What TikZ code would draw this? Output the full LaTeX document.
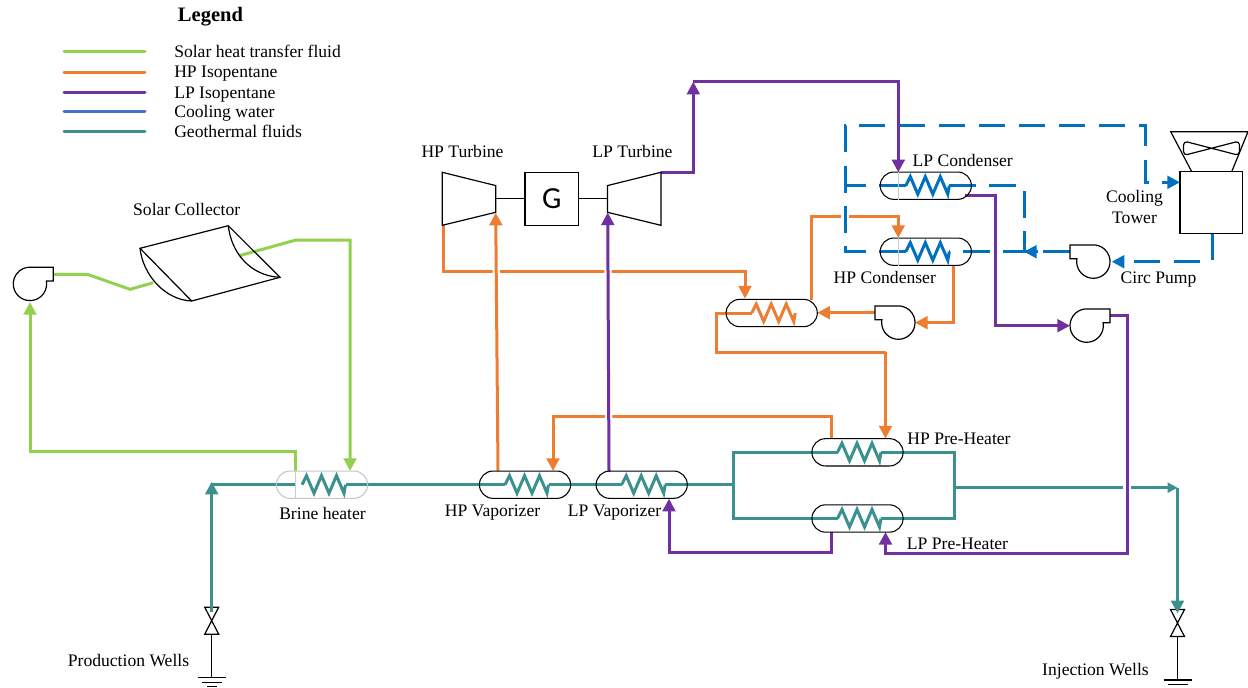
\documentclass[tikz,border=0pt]{standalone}
\usepackage{fontspec}
\setmainfont{Liberation Serif}
\newfontfamily\genfont{Carlito}
\usepackage{xcolor}
\usepackage{tikz}
\usetikzlibrary{arrows.meta, shapes.misc, positioning}
\definecolor{solarGreen}{RGB}{146,208,80}
\definecolor{hpOrange}{RGB}{237,125,49}
\definecolor{lpPurple}{RGB}{112,48,160}
\definecolor{coolBlue}{RGB}{0,112,192}
\definecolor{legendBlue}{RGB}{68,114,196}
\definecolor{geoTeal}{RGB}{58,145,142}
\tikzset{
  pipe/.style={line width=2.25pt},
  flow/.style={pipe,-{Triangle[length=9.5pt,width=9.5pt]}},
  smallflow/.style={pipe,-{Triangle[length=7.5pt,width=7.5pt]}},
  cool/.style={line width=2.25pt,coolBlue,dash pattern=on 20pt off 10pt},
  gapline/.style={white,line width=5.5pt},
  unit/.style={line width=0.9pt},
  shell/.style={gray!40,line width=0.5pt},
  hx/.style={rounded rectangle,draw,line width=0.8pt,minimum width=68.4pt,minimum height=20.5pt,inner sep=0pt},
  lblbase/.style={inner sep=0pt,font=\fontsize{13.2}{15.5}\selectfont},
  lbl/.style={lblbase,text height=10.5pt,text depth=2.5pt},
  pics/coil/.style={code={
    \draw[pipe,#1] (-20,0) -- (-15.5,-9) -- (-8,8.5) -- (-0.5,-9) -- (7,8.5) -- (14.5,-9) -- (22,8.5) -- (23.5,0);
    \coordinate (-w) at (-20,0);
    \coordinate (-e) at (23.5,0);
  }},
  pics/pump/.style={code={
    \draw[unit] (16.4,-3) arc[start angle=-10,end angle=270,radius=16.7] -- (23.3,-16.7) -- (23.3,-3) -- cycle;
    \coordinate (-out) at (23.3,-10);
    \coordinate (-in) at (-16.7,0);
    \coordinate (-bot) at (0,16.7);
  }},
  pics/turbine/.style={code={
    \draw[unit] (-26.7,-26.5) -- (26.7,-13.2) -- (26.7,13.5) -- (-26.7,26.5) -- cycle;
    \coordinate (-shaft) at (26.7,0);
    \coordinate (-inlet) at (26.7,13.5);
    \coordinate (-outlet) at (-26.7,26.5);
    \coordinate (-exhaust) at (-26.7,-26.5);
  }},
  pics/well/.style={code={
    \draw[unit] (-7,-13.5) -- (7,-13.5) -- (-7,13.5) -- (7,13.5) -- cycle;
    \draw[unit] (0,13.5) -- (0,57);
    \draw[unit] (-14,57) -- (14,57);
    \draw[unit] (-10,61.5) -- (10,61.5);
    \draw[unit] (-5,66) -- (5,66);
  }}
}
\begin{document}
\begin{tikzpicture}[x=0.75pt,y=-0.75pt]
  \useasboundingbox (0,0) rectangle (1248,688);
  % Legend
  \node[inner sep=0pt,font=\fontsize{15.4}{18}\selectfont\bfseries] (legendtitle) at (210.5,17) {Legend};
  \foreach \i/\col/\y/\name in {1/solarGreen/52/Solar heat transfer fluid,2/hpOrange/72.5/HP Isopentane,3/lpPurple/93/LP Isopentane,4/legendBlue/112/Cooling water,5/geoTeal/132/Geothermal fluids}{
    \coordinate (lega\i) at (64,\y);
    \coordinate (legb\i) at (145,\y);
    \node[lbl,anchor=west] (legt\i) at (174,\y) {\name};
    \draw[pipe,\col,line cap=round] (lega\i) -- (legb\i);
  }
  % Heat exchangers
  \pic (brinecoil) at (322,484.7) {coil=geoTeal};
  \pic (hpvapcoil) at (525,484.7) {coil=geoTeal};
  \pic (lpvapcoil) at (641.7,484.7) {coil=geoTeal};
  \pic (hpheatcoil) at (857.5,452.3) {coil=geoTeal};
  \pic (lpheatcoil) at (857.5,518.5) {coil=geoTeal};
  \pic (recupcoil) at (771.7,313) {coil=hpOrange};
  \pic (lpcondcoil) at (925.8,185.7) {coil=coolBlue};
  \pic (hpcondcoil) at (925.8,251.7) {coil=coolBlue};
  % Wells
  \pic (prodwell) at (211.7,620.7) {well};
  \pic (injwell) at (1177.5,623) {well};
  % Solar loop
  \coordinate (solarpumpout) at (53.3,274.3);
  \coordinate (solarpumpin) at (30,302);
  \coordinate (sola) at (87.3,274.3);
  \coordinate (solb) at (130,289.3);
  \coordinate (colin) at (153.3,282.7);
  \coordinate (colout) at (239.3,255.7);
  \coordinate (solc) at (296,240);
  \coordinate (sold) at (350,240);
  \coordinate (brinein) at (350,471);
  \coordinate (brineout) at (295.3,471);
  \coordinate (sole) at (295.3,451.7);
  \coordinate (solf) at (30,451.7);
  \draw[pipe,solarGreen] (solarpumpout) -- (sola) -- (solb) -- (colin);
  \draw[flow,solarGreen] (colout) -- (solc) -- (sold) -- (brinein);
  \draw[flow,solarGreen] (brineout) -- (sole) -- (solf) -- (solarpumpin);
  % Geothermal line
  \coordinate (prodout) at (211.7,612);
  \coordinate (prodtip) at (211.7,481.7);
  \coordinate (prodturn) at (211.7,484.7);
  \coordinate (brinestop) at (295,484.7);
  \coordinate (split) at (733,484.7);
  \coordinate (splittop) at (733,452.3);
  \coordinate (splitbot) at (733,518.5);
  \coordinate (jointop) at (954,452.3);
  \coordinate (joinbot) at (954,518.5);
  \coordinate (joinout) at (954,487.7);
  \coordinate (injturn) at (1177.5,487.7);
  \coordinate (injtip) at (1177.5,613.3);
  \draw[flow,geoTeal] (prodout) -- (prodtip);
  \draw[pipe,geoTeal] (prodturn) -- (brinestop);
  \draw[pipe,geoTeal] (brinecoil-e) -- (hpvapcoil-w);
  \draw[pipe,geoTeal] (hpvapcoil-e) -- (lpvapcoil-w);
  \draw[pipe,geoTeal] (lpvapcoil-e) -- (split);
  \draw[pipe,geoTeal] (hpheatcoil-w) -- (splittop) -- (splitbot) -- (lpheatcoil-w);
  \draw[pipe,geoTeal] (hpheatcoil-e) -- (jointop) -- (joinbot) -- (lpheatcoil-e);
  \draw[smallflow,geoTeal] (joinout) -- (injturn);
  \draw[flow,geoTeal] (injturn) -- (injtip);
  % HP isopentane
  \coordinate (hpexh) at (443.5,225);
  \coordinate (hpa) at (443.5,271.7);
  \coordinate (hpb) at (745,271.7);
  \coordinate (recupin) at (745,298.5);
  \coordinate (recupout) at (811.7,300);
  \coordinate (hpc) at (811.7,216.7);
  \coordinate (hpd) at (898.3,216.7);
  \coordinate (hpcondin) at (898.3,238);
  \coordinate (hpcondout) at (953.3,265);
  \coordinate (hpe) at (953.3,322.7);
  \coordinate (hppumpin) at (915,322.7);
  \coordinate (hppumpout) at (875,312.7);
  \coordinate (recupe) at (817.3,312.7);
  \coordinate (hpf) at (716,313);
  \coordinate (hpg) at (716,352.3);
  \coordinate (hph) at (885.5,352.3);
  \coordinate (hpheatin) at (885.5,438.5);
  \coordinate (hpheatout) at (831,438.5);
  \coordinate (hpi) at (831,416);
  \coordinate (hpj) at (553,416);
  \coordinate (hpvapin) at (553,471);
  \coordinate (hpvapout) at (498,471);
  \coordinate (hptin) at (495.7,212.7);
  \draw[flow,hpOrange] (hpexh) -- (hpa) -- (hpb) -- (recupin);
  \draw[flow,hpOrange] (recupout) -- (hpc) -- (hpd) -- (hpcondin);
  \draw[flow,hpOrange] (hpcondout) -- (hpe) -- (hppumpin);
  \draw[flow,hpOrange] (hppumpout) -- (recupe);
  \draw[pipe,hpOrange] (recupcoil-w) -- (hpf) -- (hpg) -- (hph);
  \draw[flow,hpOrange] (hph) -- (hpheatin);
  \draw[flow,hpOrange] (hpheatout) -- (hpi) -- (hpj) -- (hpvapin);
  \draw[gapline] (hpvapout) -- (hptin);
  \draw[flow,hpOrange] (hpvapout) -- (hptin);
  % Cooling water
  \coordinate (cla) at (845,251.7);
  \coordinate (clb) at (845,126);
  \coordinate (clc) at (1145,126);
  \coordinate (cld) at (1145,182.3);
  \coordinate (towerin) at (1180,182.3);
  \coordinate (cle) at (845,185.7);
  \coordinate (clf) at (1024,185.7);
  \coordinate (clg) at (1024,251.7);
  \coordinate (clh) at (1037.5,251.7);
  \coordinate (circout) at (1070,251.7);
  \coordinate (towerout) at (1212,233.3);
  \coordinate (cli) at (1212,261.7);
  \coordinate (circin) at (1111.7,261.7);
  \coordinate (cljumpa) at (845,207);
  \coordinate (cljumpb) at (845,227);
  \draw[gapline] (cljumpa) -- (cljumpb);
  \draw[cool,-{Triangle[length=9.5pt,width=9.5pt]}] (hpcondcoil-w) -- (cla) -- (clb) -- (clc) -- (cld) -- (towerin);
  \draw[cool] (lpcondcoil-w) -- (cle);
  \draw[cool] (lpcondcoil-e) -- (clf) -- (clg);
  \draw[cool] (circout) -- (hpcondcoil-e);
  \draw[flow,coolBlue] (clh) -- (clg);
  \draw[cool,-{Triangle[length=9.5pt,width=9.5pt]}] (towerout) -- (cli) -- (circin);
  % LP isopentane
  \coordinate (lptout) at (660.7,172.3);
  \coordinate (lpa) at (693.3,172.3);
  \coordinate (lpb) at (693.3,81.7);
  \coordinate (lpc) at (898.3,81.7);
  \coordinate (lpcondin) at (898.3,172.3);
  \coordinate (lpcondout) at (965,195);
  \coordinate (lpd) at (995,195);
  \coordinate (lpe) at (995,325.7);
  \coordinate (lppumpin) at (1070,325.7);
  \coordinate (lppumpout) at (1110,315);
  \coordinate (lpf) at (1127,315);
  \coordinate (lpg) at (1127,553);
  \coordinate (lph) at (885.5,553);
  \coordinate (lpheatin) at (885.5,532);
  \coordinate (lpheatout) at (831,532);
  \coordinate (lpi) at (831,552.7);
  \coordinate (lpj) at (669,552.7);
  \coordinate (lpvapin) at (669,498.7);
  \coordinate (lpvapout) at (609,471.5);
  \coordinate (lptin) at (607.7,212.5);
  \draw[flow,lpPurple] (lptout) -- (lpa) -- (lpb);
  \draw[flow,lpPurple] (lpb) -- (lpc) -- (lpcondin);
  \draw[flow,lpPurple] (lpcondout) -- (lpd) -- (lpe) -- (lppumpin);
  \draw[gapline] (lpf) -- (lpg);
  \draw[flow,lpPurple] (lppumpout) -- (lpf) -- (lpg) -- (lph) -- (lpheatin);
  \draw[flow,lpPurple] (lpheatout) -- (lpi) -- (lpj) -- (lpvapin);
  \draw[gapline] (lpvapout) -- (lptin);
  \draw[flow,lpPurple] (lpvapout) -- (lptin);
  % Shells
  \node[hx,draw=gray!45] (brine) at (322,484.7) {};
  \node[hx] (hpvap) at (525,484.7) {};
  \node[hx] (lpvap) at (641.7,484.7) {};
  \node[hx] (hpheat) at (857.5,452.3) {};
  \node[hx] (lpheat) at (857.5,518.5) {};
  \node[hx] (recup) at (771.7,313) {};
  \node[hx] (lpcond) at (925.8,185.7) {};
  \node[hx] (hpcond) at (925.8,251.7) {};
  \draw[shell] (lpcond.north -| lpcondin) -- (lpcond.south -| lpcondin);
  \draw[shell] (hpcond.north -| hpcondin) -- (hpcond.south -| hpcondin);
  \draw[shell] (brine.north -| brineout) -- (brine.south -| brineout);
  % Pumps
  \pic (solarpump) at (30,284) {pump};
  \pic[xscale=-1] (hppump) at (898.3,322.7) {pump};
  \pic[xscale=-1] (circpump) at (1093.3,261.7) {pump};
  \pic (lppump) at (1086.7,325.7) {pump};
  % Turbines and generator
  \pic (hpturb) at (469,198.8) {turbine};
  \pic[xscale=-1] (lpturb) at (634.2,198.8) {turbine};
  \node[draw,unit,minimum size=40pt,inner sep=0pt,font=\genfont\fontsize{23}{25}\selectfont] (gen) at (551.7,198.8) {G};
  \draw[unit] (hpturb-shaft) -- (gen);
  \draw[unit] (lpturb-shaft) -- (gen);
  % Solar collector
  \coordinate (cola) at (140,248.3);
  \coordinate (colb) at (228.3,225.7);
  \coordinate (colc) at (280,277.3);
  \coordinate (cold) at (191.7,301);
  \draw[unit] (cola) -- (colb) -- (colc) -- (cold) -- cycle;
  \draw[unit] (cola) .. controls (143,275) and (165,300) .. (cold);
  \draw[unit] (colb) .. controls (231,252) and (250,276) .. (colc);
  % Cooling tower
  \node[draw,unit,minimum width=47pt,minimum height=46.2pt,inner sep=0pt] (tower) at (1211.4,202.5) {};
  \coordinate (hoodc) at (1191.7,171.7);
  \coordinate (hoodd) at (1231.7,171.7);
  \coordinate (hooda) at (1170.7,131.7);
  \coordinate (hoodb) at (1248,131.7);
  \draw[unit] (hoodc) -- (hooda) -- (hoodb) -- (hoodd);
  \coordinate (fan) at (1211.7,148.3);
  \draw[unit,rounded corners=3pt] (fan) -- (1183.5,141) -- (1183.5,155.5) -- (1239.5,141) -- (1239.5,155.5) -- cycle;
  % Labels
  \node[lbl] (sollbl) at (186.7,210.5) {Solar Collector};
  \node[lbl] (hptlbl) at (462.5,152.5) {HP Turbine};
  \node[lbl] (lptlbl) at (632.5,152.5) {LP Turbine};
  \node[lbl] (lpclbl) at (962.7,160.7) {LP Condenser};
  \node[lbl] (hpclbl) at (884.8,277.7) {HP Condenser};
  \node[lblbase,align=center] (towlbl) at (1134.5,207) {Cooling\\Tower};
  \node[lbl] (circlbl) at (1158.5,277.7) {Circ Pump};
  \node[lbl] (brilbl) at (322.5,514.3) {Brine heater};
  \node[lbl] (hpvlbl) at (492.5,510.7) {HP Vaporizer};
  \node[lbl] (lpvlbl) at (614.5,510.7) {LP Vaporizer};
  \node[lbl] (hphlbl) at (959,439.5) {HP Pre-Heater};
  \node[lbl] (lphlbl) at (957.5,544) {LP Pre-Heater};
  \node[lbl] (prolbl) at (128.5,661.5) {Production Wells};
  \node[lbl] (injlbl) at (1095.5,670.5) {Injection Wells};
\end{tikzpicture}
\end{document}
